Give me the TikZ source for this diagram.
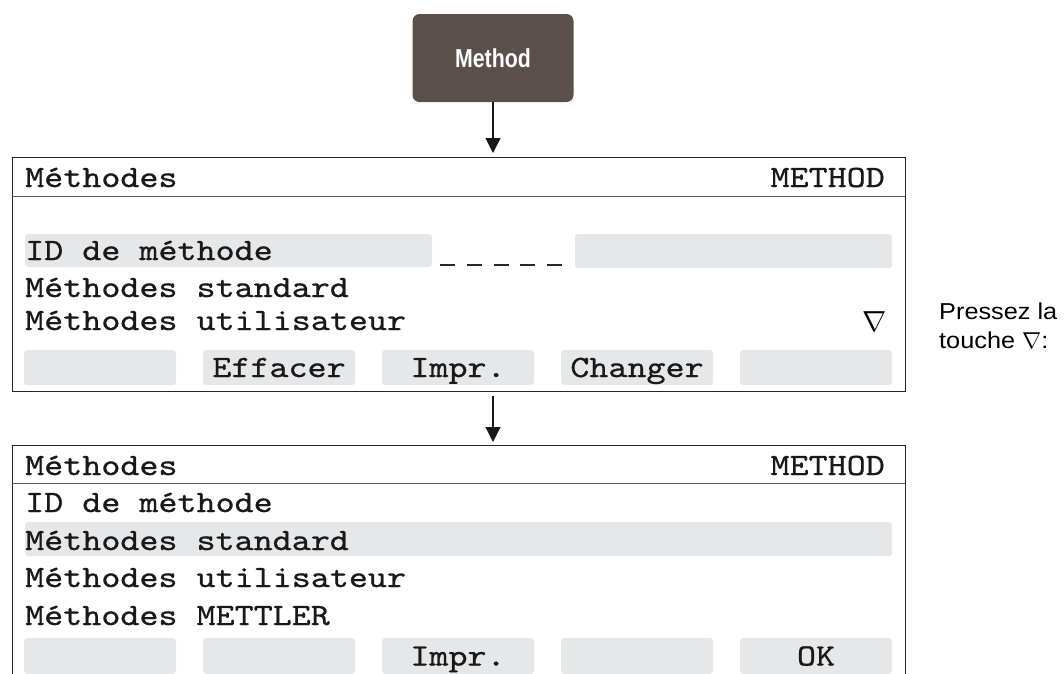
\RequirePackage{fix-cm}
\documentclass[tikz,border=0pt]{standalone}
\usepackage{fontspec}
\usepackage{tikz}
\usetikzlibrary{arrows.meta,calc}
\newfontfamily\lcdfont{lmmono10-regular.otf}[FakeStretch=1.17,FakeBold=0.7]
\newfontfamily\notefont{Liberation Sans}[FakeStretch=1.1]
\newfontfamily\keyfont{Liberation Sans}[FakeStretch=0.82]
\definecolor{keybrown}{HTML}{5B4F4C}
\definecolor{lcdgray}{HTML}{E6E7E8}
\newcommand{\lcdsize}{\fontsize{31}{35}\selectfont}
\newcommand{\keypitch}{179}
\tikzset{
  lcdtext/.style={font=\lcdfont\lcdsize, text=black!90, inner sep=0pt, anchor=base west},
  screen/.style={draw=black!85, line width=1.2pt, inner sep=0pt, anchor=north west},
  sepline/.style={draw=black!65, line width=1pt},
  hilite/.style={fill=lcdgray, rounded corners=3pt},
  softkey/.style={hilite, minimum width=152pt, minimum height=35pt, inner sep=0pt,
    text height=24pt, text depth=5pt, font=\lcdfont\lcdsize, text=black!90},
  pointer/.style={draw=black!90, line width=1.2pt, -{Triangle[length=15pt,width=15pt]}}
}

\begin{document}
\begin{tikzpicture}[x=1pt,y=-1pt]
    \clip (0,0) rectangle (1064,673);

    % key on the keypad
    \node[fill=keybrown, rounded corners=7pt, minimum width=161pt, minimum height=88pt,
      text=white, font=\keyfont\bfseries\fontsize{26}{28}\selectfont] (btn) at (493,58) {Method};

    % first screen
    \node[screen, minimum width=893pt, minimum height=234pt] (scrtop) at (12,157) {};
    \draw[sepline] (12,196) -- (905,196);
    \node[lcdtext] (ttitle) at (25,187) {Méthodes};
    \node[lcdtext, anchor=base east] (tmode) at (885,187) {METHOD};
    \fill[hilite] (25,234) rectangle (432,267);
    \fill[hilite] (575,234) rectangle (892,268);
    \node[lcdtext] (tid) at (25,260) {ID de méthode};
    \foreach \i in {0,...,4}
      \draw[black!85, line width=1.8pt] (440+26.8*\i,265) -- ++(15,0);
    \node[lcdtext] (tstd) at (25,297) {Méthodes standard};
    \node[lcdtext] (tusr) at (25,330) {Méthodes utilisateur};
    \node[inner sep=0pt, font=\fontsize{29}{30}\selectfont] (tdown) at (875,322) {$\nabla$};
    \foreach \lbl [count=\i from 0] in {{}, Effacer, Impr., Changer, {}}
      \node[softkey] (ka\i) at (100+\keypitch*\i,367.5) {\lbl};

    % hint beside the screen
    \node[font=\notefont\fontsize{23}{29}\selectfont, anchor=base west, inner sep=0pt] (note1) at (939,319) {Pressez la};
    \node[font=\notefont\fontsize{23}{29}\selectfont, anchor=base west, inner sep=0pt] (note2) at (939,348) {touche $\nabla$:};

    % second screen
    \node[screen, minimum width=893pt, minimum height=260pt] (scrbot) at (12,445) {};
    \draw[sepline] (12,483) -- (905,483);
    \node[lcdtext] (btitle) at (25,475) {Méthodes};
    \node[lcdtext, anchor=base east] (bmode) at (885,475) {METHOD};
    \node[lcdtext] (bid) at (25,512) {ID de méthode};
    \fill[hilite] (25,522) rectangle (892,556);
    \node[lcdtext] (bstd) at (25,550) {Méthodes standard};
    \node[lcdtext] (busr) at (25,587) {Méthodes utilisateur};
    \node[lcdtext] (bmt) at (25,625) {Méthodes METTLER};
    \foreach \lbl [count=\i from 0] in {{}, {}, Impr., {}, OK}
      \node[softkey, minimum height=36pt] (kb\i) at (100+\keypitch*\i,656) {\lbl};

    % steps
    \draw[pointer, shorten >=4pt] (btn.south) -- (btn.south |- scrtop.north);
    \draw[pointer, shorten <=4pt, shorten >=3pt] (btn |- scrtop.south) -- (btn |- scrbot.north);
\end{tikzpicture}
\end{document}
